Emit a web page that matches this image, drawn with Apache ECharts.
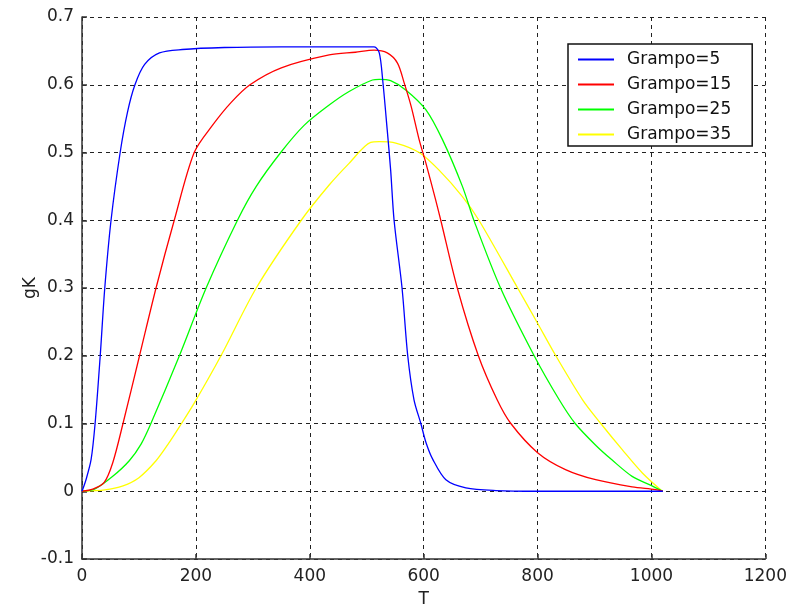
<!DOCTYPE html>
<html>
<head>
<meta charset="utf-8">
<script src="https://cdn.jsdelivr.net/npm/echarts@6/dist/echarts.min.js"></script>
<style>
html,body{margin:0;padding:0;background:#fff;}
#chart{width:790px;height:613px;}
</style>
</head>
<body>
<div id="chart"></div>
<script>
// Grampo=5
const t5 = [0,7,16,23,32,40,51,67,80,93,110,136,176,250,350,450,513,522,528,536,542,548,562,572,583,595,604,616,639,674,727,800,900,1020];
const g5 = [0,0.017,0.047,0.1,0.2,0.3,0.4,0.5,0.56,0.6,0.63,0.647,0.652,0.655,0.656,0.656,0.656,0.647,0.607,0.533,0.474,0.4,0.3,0.2,0.135,0.1,0.072,0.047,0.017,0.005,0.001,0,0,0];
// Grampo=15
const t15 = [0,19,39,54,72,101,130,162,197,229,262,295,350,434,480,513,536,554,566,578,592,604,621,630,659,696,729,753,800,849,902,966,1007,1020];
const g15 = [0,0.003,0.013,0.042,0.1,0.2,0.3,0.4,0.5,0.54,0.574,0.6,0.625,0.644,0.648,0.651,0.647,0.632,0.602,0.568,0.519,0.484,0.43,0.4,0.3,0.2,0.135,0.1,0.057,0.032,0.017,0.0065,0.0025,0];
// Grampo=25
const t25 = [0,22,54,83,104,121,171,218,273,306,349,390,434,469,510,522,542,569,604,633,668,689,735,794,838,866,902,931,966,1001,1020];
const g25 = [0,0.003,0.022,0.045,0.07,0.1,0.2,0.3,0.4,0.45,0.5,0.54,0.57,0.59,0.607,0.608,0.606,0.592,0.563,0.519,0.45,0.398,0.3,0.2,0.135,0.1,0.068,0.046,0.022,0.008,0];
// Grampo=35
const t35 = [0,40,72,100,130,150,171,197,244,306,385,434,469,507,522,551,592,627,668,697,765,800,832,879,911,949,984,1019];
const g35 = [0,0.002,0.008,0.02,0.045,0.068,0.095,0.13,0.2,0.3,0.4,0.452,0.484,0.515,0.516,0.514,0.5,0.474,0.435,0.4,0.3,0.248,0.2,0.135,0.1,0.061,0.027,0];

const seriesNames = ['Grampo=5','Grampo=15','Grampo=25','Grampo=35'];
const seriesColors = ['#0000ff','#ff0000','#00ff00','#ffff00'];
const xTicks = [0,200,400,600,800,1000,1200];
const yTicks = [-0.1,0,0.1,0.2,0.3,0.4,0.5,0.6,0.7];

function pairs(t, g){ return t.map((x,i)=>[x,g[i]]); }
const allData = [pairs(t5,g5), pairs(t15,g15), pairs(t25,g25), pairs(t35,g35)];

const FONT = 'DejaVu Sans';
const chart = echarts.init(document.getElementById('chart'), null, {renderer:'canvas'});
chart.setOption({
  backgroundColor:'#fff',
  animation:false,
  grid:{left:82, right:23.5, top:17, bottom:53.3, containLabel:false},
  xAxis:{
    type:'value', min:xTicks[0], max:xTicks[xTicks.length-1], interval:200,
    name:'T', nameLocation:'middle', nameGap:32, nameMoveOverlap:false,
    nameTextStyle:{fontFamily:FONT, fontSize:17, color:'#222'},
    axisLine:{show:true, onZero:false, lineStyle:{color:'#333', width:1.5}},
    axisTick:{show:true, inside:true, length:5, lineStyle:{color:'#333', width:1.5}},
    axisLabel:{fontFamily:FONT, fontSize:17, color:'#222', margin:9, formatter:v=>String(v)},
    splitLine:{show:true, lineStyle:{color:'#222', type:[4,4], width:1}}
  },
  yAxis:{
    type:'value', min:yTicks[0], max:yTicks[yTicks.length-1], interval:0.1,
    name:'gK', nameLocation:'middle', nameGap:43, nameRotate:90, nameMoveOverlap:false,
    nameTextStyle:{fontFamily:FONT, fontSize:17, color:'#222'},
    axisLine:{show:true, onZero:false, lineStyle:{color:'#333', width:1.5}},
    axisTick:{show:true, inside:true, length:5, lineStyle:{color:'#333', width:1.5}},
    axisLabel:{fontFamily:FONT, fontSize:17, color:'#222', margin:8,
      formatter:v=>String(Math.round(v*10)/10)},
    splitLine:{show:true, lineStyle:{color:'#222', type:[4,4], width:1}}
  },
  legend:{
    show:true, orient:'vertical', left:568, top:44,
    backgroundColor:'#fff', borderColor:'#111', borderWidth:1.5, borderRadius:0,
    padding:[7,21,3,10], itemWidth:36, itemHeight:2, itemGap:8, icon:'rect',
    textStyle:{fontFamily:FONT, fontSize:17, color:'#111', lineHeight:16, padding:[0,0,0,8]},
    data:seriesNames
  },
  series: seriesNames.map((n,i)=>({
    name:n, type:'line', data:allData[i], symbol:'none', smooth:0.3,
    lineStyle:{color:seriesColors[i], width:1.3},
    itemStyle:{color:seriesColors[i]},
    z: 10 - i
  }))
});
</script>
</body>
</html>
